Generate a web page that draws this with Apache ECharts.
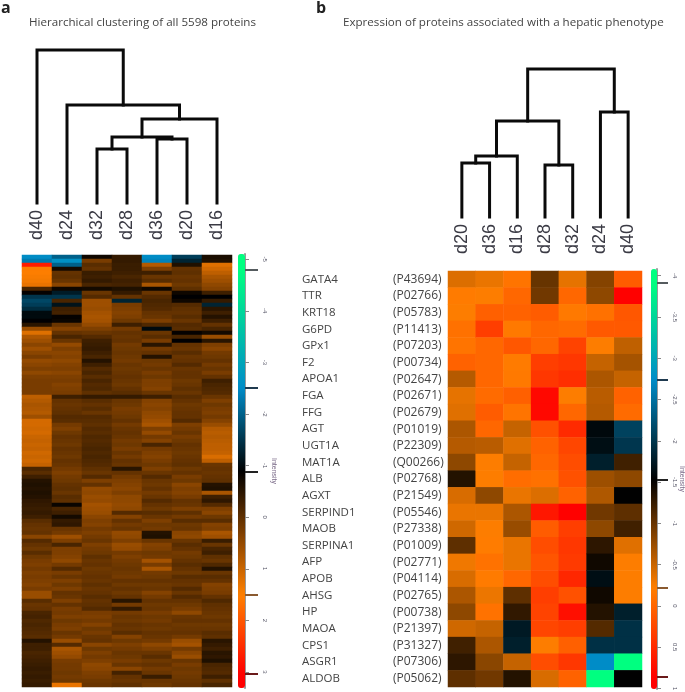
<!DOCTYPE html>
<html><head><meta charset="utf-8">
<style>html,body{margin:0;padding:0;background:#fff}#c{width:685px;height:692px;filter:blur(0.45px)}</style>
<script src="https://cdn.jsdelivr.net/npm/echarts@6/dist/echarts.min.js"></script>
</head><body><div id="c"></div>
<script>
// ---------- Panel a ----------
const titleA = 'Hierarchical clustering of all 5598 proteins';
const samplesA = ['d40','d24','d32','d28','d36','d20','d16'];
// merges: [node, node, height]; nodes 0-6 are leaves, 7+ earlier merges
const mergesA = [[2,3,54],[4,5,64],[7,8,66],[9,6,84],[10,1,98],[11,0,153]];
const d40a = [-2.5,-2.3,2.7,1.5,1.5,1.45,1.4,1.3,-.2,-.85,
 -1.5,-1.7,-1.6,-1.4,-1,-1,-.9,-.5,.55,1.2,
 .75,.6,.4,.6,.4,.25,.5,.4,.3,.45,
 .3,.25,.25,.25,.25,.9,.8,.7,.75,.8,
 .6,1.1,1.1,1.05,1.1,1,.95,1,.95,1.05,
 1.0,1.05,.95,-.2,-.05,-.3,-.55,-.6,-.55,-.6,
 -.55,-.45,-.4,-.35,-.4,-.3,-.05,.05,.1,.05,
 .4,-.1,.05,.15,-.05,.15,.25,.3,.2,.3,
 .25,.3,.35,.25,.55,.55,-.05,.1,.05,-.2,
 -.25,-.15,-.2,-.15,-.1,-.05,-.55,-.3,-.3,-.2,
 -.25,-.3,-.35,-.4,-.35,-.4,-.35,-.4];
const d24a = [-2,-2.6,-2,-.7,.05,0,.1,.4,-.75,-1.2,
 -1.5,-.2,-1.1,-.3,-.25,-.85,-.8,.1,.35,.05,
 -.2,.1,.5,.3,.4,.35,.45,.35,.3,.4,
 .3,.25,.35,.3,.25,-.3,.05,.1,.05,0,
 -.1,-.05,.2,.3,.15,.05,.1,.15,.05,.1,
 .15,.05,.1,.2,.3,.2,.15,.05,0,.1,
 -.05,0,-.8,-.2,-.3,-.7,-.4,-.45,.1,.2,
 .6,.3,-.2,.3,.3,.35,.45,.2,-.1,.25,
 .1,.3,.15,.3,.05,.1,.3,.05,.25,.2,
 .3,.15,.25,.3,.1,.2,.55,-.1,.7,.6,
 .5,.25,.2,.2,.15,.2,.15,1.3];
const d32a = [-.75,.25,-.05,.05,-.35,-.3,-.4,-.2,-.7,.1,
 -.1,.6,.6,.55,.65,.7,.65,.5,.3,.1,
 -.1,-.3,-.35,-.4,-.3,-.2,-.55,-.3,-.1,-.2,
 -.05,-.2,-.1,-.15,0,-.4,-.05,.05,-.05,.1,
 -.1,-.05,0,-.1,-.05,-.15,-.1,-.15,-.2,-.15,
 -.2,-.15,-.1,0,.1,-.1,.3,.05,.5,.45,
 .55,.5,.65,.6,.55,.4,.3,.35,.2,.3,
 .2,.1,.3,.2,.15,0,.1,.05,.15,.1,
 .05,.1,0,.1,.05,-.05,.05,0,-.1,.25,
 .3,.2,.35,.15,.25,.1,.05,.4,.15,.3,
 .2,.3,.45,.4,.3,.25,.15,.1];
const d28a = [-.4,-.4,-.35,-.35,-.3,-.2,-.3,-.25,-.6,-.4,
 .05,-1.3,.25,.3,.35,.3,.15,-.3,.2,.05,
 .1,.05,.2,.15,.1,.15,.2,.1,.15,.1,
 .05,.1,.15,.05,-.05,-.4,.1,.15,.25,.2,
 .15,.05,.2,.1,.05,.1,.2,.15,.25,.1,
 .2,.05,.1,-.5,.05,.2,.3,.35,.4,.3,
 .45,.45,.5,.45,-.1,.35,.05,.2,.1,.5,
 .45,.3,.55,.5,.2,.3,.2,.15,.1,.15,
 .2,.05,.15,.05,.15,.05,-.5,.2,-.4,.2,
 .1,.15,.05,.1,-.05,.35,.15,.3,.2,.1,
 .15,.25,.1,.4,-.25,.05,.1,0];
const d36a = [-2.5,-2.4,.8,.3,-.3,.1,-.05,.7,-.75,.1,
 -.1,-.2,-.15,-.1,.05,.1,.3,-.15,-1,.1,
 -.05,.25,-.5,.2,.05,-.55,.15,.2,.1,.25,
 .15,.3,.3,.35,.1,-.3,.35,.4,.35,.45,
 .5,.6,.7,.3,.5,.2,.35,-.2,.2,.3,
 .35,.25,.15,.3,.1,-.1,.1,.15,.05,.2,
 .1,-.1,.05,.15,-.05,.1,.3,.15,.2,-.55,
 -.6,.1,.35,.3,.15,.2,.65,.25,.7,.2,
 .15,.05,.15,.1,.35,.2,.05,.15,.1,.25,
 .15,.2,.1,.15,.05,.1,.2,.45,.3,.1,
 -.05,.15,.05,.2,.1,-.35,.1,.15];
const d20a = [-1.6,-1.3,-.6,.05,0,.1,.05,.15,0,-.75,
 -.9,-.75,-.1,0,.05,-.05,.1,-.1,-.05,-.85,
 -.2,-.9,.05,.1,-.05,.1,.05,-.1,.1,.05,
 .05,.15,.1,0,.1,-.05,.05,.15,.1,.05,
 .05,-.1,.3,.2,.1,.25,.15,.05,.1,.15,
 .1,.05,0,.15,.05,.25,.15,.4,.3,.35,
 .25,.05,.1,.3,0,.2,-.05,.15,.1,.4,
 .45,.1,-.05,.05,.2,.15,.05,-.05,.05,.15,
 -.05,.05,.1,-.1,.1,-.1,.05,.15,.25,.45,
 .1,.05,.15,.1,.05,.2,.55,.65,.2,.4,
 .55,.1,.25,.15,.2,.15,.1,.05];
const d16a = [-.65,-.6,1.2,1.05,.9,.7,.6,.45,.35,-.3,
 -.9,-.4,-1.3,-.5,-.3,-.55,-.3,.05,-.2,-.7,
 .55,-.5,.3,.4,.2,.15,.05,.2,.1,.25,
 .05,-.3,-.2,-.15,-.1,.1,.3,.15,.25,.3,
 .2,.35,.55,.8,.85,.8,.85,.9,.9,.95,
 1.15,.9,.1,.05,.1,.05,0,-.55,-.6,.7,
 -.3,-.45,-.1,.3,.4,.15,-.05,.35,.3,.7,
 .6,-.35,.1,-.2,-.3,0,.1,-.15,-.55,.1,
 -.05,.05,.35,.3,.25,.05,-.15,0,.05,.1,
 .15,.05,.15,.1,-.05,0,-.5,-.4,-.3,-.5,
 -.45,-.6,-.2,-.15,-.1,-.3,0,-.2];
const matrixA = [d40a,d24a,d32a,d28a,d36a,d20a,d16a];
const ticksA = [-5,-4,-3,-2,-1,0,1,2,3];
const handlesA = [[-4.8,'#555b5e'],[-2.5,'#1f3a4f'],[-0.89,'#222222'],[1.51,'#8a5a30'],[3.04,'#6a1a1a']];

// ---------- Panel b ----------
const titleB = 'Expression of proteins associated with a hepatic phenotype';
const samplesB = ['d20','d36','d16','d28','d32','d24','d40'];
const mergesB = [[0,1,54],[7,2,61],[3,4,52],[8,9,96],[5,6,105],[10,11,148]];
const genes = ['GATA4','TTR','KRT18','G6PD','GPx1','F2','APOA1','FGA','FFG','AGT','UGT1A','MAT1A','ALB','AGXT','SERPIND1','MAOB','SERPINA1','AFP','APOB','AHSG','HP','MAOA','CPS1','ASGR1','ALDOB'];
const accessions = ['(P43694)','(P02766)','(P05783)','(P11413)','(P07203)','(P00734)','(P02647)','(P02671)','(P02679)','(P01019)','(P22309)','(Q00266)','(P02768)','(P21549)','(P05546)','(P27338)','(P01009)','(P02771)','(P04114)','(P02765)','(P00738)','(P21397)','(P31327)','(P07306)','(P05062)'];
const d20b = [-.4,-.18,-.22,-.09,-.12,.03,-.6,-.35,-.38,-.65,-.6,-.8,-1.35,-.42,-.33,-.47,-1.05,-.3,-.42,-.65,-.8,-.47,-1.2,-1.3,-1.05];
const d36b = [-.33,-.22,.05,.34,-.01,-.01,-.01,-.04,.08,-.01,-.58,-.22,-.22,-.8,-.33,-.22,-.19,-.1,-.18,-.32,-.1,-.52,-.65,-.82,-.95];
const d16b = [-.12,-.01,.03,-.16,.12,-.18,-.16,.05,-.12,-.52,-.38,-.52,-.06,-.33,-.65,-.75,-.33,-.33,-.01,-1.05,-1.28,-1.75,-1.8,-.52,-1.35];
const d28b = [-1.0,-.95,.08,-.01,-.01,.34,.4,.79,.79,.18,.03,-.01,-.09,-.4,.66,.08,.21,.14,.21,.34,.3,.27,-.22,.21,-.42];
const d32b = [-.35,-.01,-.16,-.04,.3,.4,.47,-.22,-.01,.51,.27,.21,.18,.03,.86,.34,.4,.37,.53,.18,.73,.34,.05,.4,.03];
const d24b = [-.85,-.8,-.09,.11,-.22,-.52,-.65,-.58,-.6,-1.6,-1.65,-1.8,-.72,-.63,-.95,-.8,-1.3,-1.45,-1.65,-1.45,-1.35,-1.1,-1.95,-2.74,-3.95];
const d40b = [.08,.86,.12,.11,-.55,-.68,-.52,.03,-.04,-2.1,-2.0,-1.2,-.8,-1.53,-1.05,-1.2,-.38,-.22,-.22,-.22,-1.8,-1.95,-1.95,-3.95,-1.53];
const matrixB = [d20b,d36b,d16b,d28b,d32b,d24b,d40b];
const ticksB = [-4,-3.5,-3,-2.5,-2,-1.5,-1,-0.5,0,0.5,1];
const handlesB = [[-3.91,'#555b5e'],[-2.74,'#1f3a4f'],[-1.53,'#222222'],[-0.22,'#8a5a30'],[0.86,'#6a1a1a']];

// ---------- Colour scales: value anchors for the shared palette ----------
const paletteColors = [[0,255,128],[0,140,200],[0,0,0],[255,128,0],[255,0,0]];
const anchorsA = [-4.8,-2.5,-0.89,1.51,3.04];
const anchorsB = [-3.91,-2.74,-1.53,-0.22,0.86];
const rangeA = [-5.1,3.31];
const rangeB = [-4.08,1.005];

function ramp(anchors, range){
  const n = 81, out = [];
  for(let i=0;i<n;i++){
    const v = range[0]+(range[1]-range[0])*i/(n-1);
    let k=0;
    while(k<anchors.length-2 && v>anchors[k+1]) k++;
    let t=(v-anchors[k])/(anchors[k+1]-anchors[k]);
    t=Math.max(0,Math.min(1,t));
    const a=paletteColors[k], b=paletteColors[k+1];
    out.push('rgb('+a.map((c,j)=>Math.round(c+(b[j]-c)*t)).join(',')+')');
  }
  return out;
}
function cells(m){const o=[];m.forEach((col,c)=>col.forEach((v,r)=>o.push([c,r,v])));return o;}
function nodePositions(merges){
  const x=[0,1,2,3,4,5,6], h=[0,0,0,0,0,0,0];
  merges.forEach(m=>{x.push((x[m[0]]+x[m[1]])/2);h.push(m[2]);});
  return {x,h};
}
function dendro(merges, gi){
  const {x,h}=nodePositions(merges);
  return merges.map(m=>({
    type:'line',xAxisIndex:gi,yAxisIndex:gi,silent:true,animation:false,showSymbol:false,symbol:'none',clip:false,
    lineStyle:{color:'#0a0a0a',width:3,join:'miter',cap:'square'},
    data:[[x[m[0]],h[m[0]]],[x[m[0]],m[2]],[x[m[1]],m[2]],[x[m[1]],h[m[1]]]]
  }));
}
const hideX={type:'value',min:-0.5,max:6.5,show:false};
const labelFont='"Open Sans"';
const grids=[
 {left:22,width:210,top:50,height:153},
 {left:22,width:210,top:255,height:432},
 {left:245,width:13,top:254,height:434},
 {left:448,width:194,top:69,height:148},
 {left:448,width:194,top:271,height:416},
 {left:657,width:11,top:269,height:420}
];
const sampleAxis=(data,gi,margin)=>({type:'category',gridIndex:gi,position:'top',data,
  axisLine:{show:false},axisTick:{show:false},
  axisLabel:{rotate:-90,margin,fontFamily:'"Liberation Sans"',fontSize:18,color:'#3a3a44',interval:0}});
const cbarAxis=(gi,range,ticks,gap)=>({type:'value',gridIndex:gi,position:'right',inverse:true,min:range[0],max:range[1],
  splitLine:{show:false},
  axisLine:{show:true,lineStyle:{color:'#9a9a9a',width:2}},
  axisTick:{show:true,length:4,inside:false,lineStyle:{color:'#888'},customValues:ticks},
  axisLabel:{rotate:-90,margin:4,fontSize:6,fontFamily:'"Liberation Sans"',color:'#556',customValues:ticks},
  name:'Intensity',nameLocation:'middle',nameRotate:-90,nameGap:gap,nameTextStyle:{fontSize:7,color:'#7a6a88',fontFamily:'"Liberation Sans"'}});
const hideCbarX=gi=>({type:'value',gridIndex:gi,show:false,min:0,max:1});
const rows108=d40a.map((_,i)=>String(i));

const xAxes=[
 {...hideX,gridIndex:0},
 sampleAxis(samplesA,1,15),
 hideCbarX(2),
 {...hideX,gridIndex:3},
 sampleAxis(samplesB,4,17),
 hideCbarX(5)
];
const yAxes=[
 {type:'value',gridIndex:0,min:0,max:153,show:false},
 {type:'category',gridIndex:1,inverse:true,data:rows108,axisLine:{show:false},axisTick:{show:false},axisLabel:{show:false}},
 cbarAxis(2,rangeA,ticksA,12),
 {type:'value',gridIndex:3,min:0,max:148,show:false},
 {type:'category',gridIndex:4,inverse:true,data:genes,axisLine:{show:false},axisTick:{show:false},
  axisLabel:{margin:146,align:'left',interval:0,color:'#444',fontFamily:labelFont,fontSize:11.5,
    formatter:(g,i)=>'{g|'+g+'}{p|'+accessions[i]+'}',
    rich:{g:{width:91,align:'left',fontFamily:labelFont,fontSize:11.5,color:'#444'},
          p:{align:'left',fontFamily:labelFont,fontSize:12,color:'#444'}}}},
 cbarAxis(5,rangeB,ticksB,9)
];
const heat=(m,gi)=>({type:'heatmap',xAxisIndex:gi,yAxisIndex:gi,data:cells(m),silent:true,animation:false,progressive:0,
  itemStyle:{borderWidth:0},emphasis:{disabled:true}});
const handleSeries=(handles,gi)=>({type:'line',xAxisIndex:gi,yAxisIndex:gi,data:[],silent:true,animation:false,
  markLine:{silent:true,animation:false,symbol:'none',label:{show:false},
    data:handles.map(h=>({yAxis:h[0],lineStyle:{color:h[1],width:2,type:'solid'}}))}});

const series=[];
dendro(mergesA,0).forEach(s=>series.push(s));
const heatAIdx=series.length; series.push(heat(matrixA,1));
series.push(handleSeries(handlesA,2));
dendro(mergesB,3).forEach(s=>series.push(s));
const heatBIdx=series.length; series.push(heat(matrixB,4));
series.push(handleSeries(handlesB,5));

const vm=(idx,range,anchors,left,top,w,h)=>({type:'continuous',seriesIndex:idx,min:range[0],max:range[1],inverse:true,
  orient:'vertical',left,top,itemWidth:w,itemHeight:h,padding:0,calculable:false,realtime:false,
  text:null,showLabel:false,hoverLink:false,inRange:{color:ramp(anchors,range)},textStyle:{fontSize:0}});

const chart=echarts.init(document.getElementById('c'),null,{renderer:'canvas'});
chart.setOption({
  animation:false,backgroundColor:'#fff',
  title:[
   {text:'a',left:1,top:0,padding:0,textStyle:{fontSize:16,fontWeight:'bold',color:'#222',fontFamily:labelFont}},
   {text:'b',left:316,top:0,padding:0,textStyle:{fontSize:16,fontWeight:'bold',color:'#222',fontFamily:labelFont}},
   {text:titleA,left:29,top:17,padding:0,textStyle:{fontSize:11.6,fontWeight:'normal',color:'#444',fontFamily:labelFont}},
   {text:titleB,left:343,top:17,padding:0,textStyle:{fontSize:11.6,fontWeight:'normal',color:'#444',fontFamily:labelFont}}
  ],
  grid:grids.map(g=>({...g,containLabel:false,outerBoundsMode:'none'})),
  xAxis:xAxes,yAxis:yAxes,series,
  visualMap:[vm(heatAIdx,rangeA,anchorsA,238,254,7,434),vm(heatBIdx,rangeB,anchorsB,651,269,6,420)]
});
</script></body></html>
